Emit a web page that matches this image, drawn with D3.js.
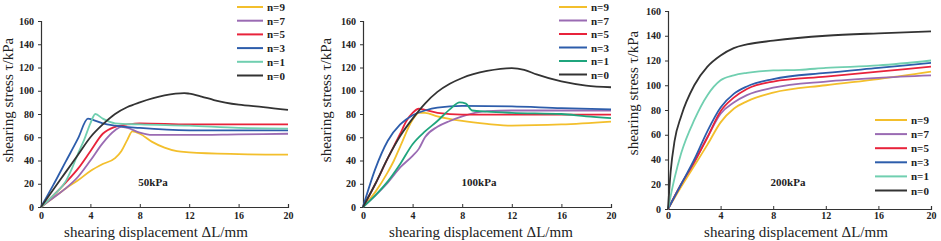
<!DOCTYPE html>
<html lang="en">
<head>
  <meta charset="utf-8" />
  <style>
    body { margin: 0; background: #fff; }
    text { font-family: "Liberation Serif", "Times New Roman", serif; fill: #222; }
    .tick text { font-size: 10px; font-weight: bold; }
    .title { font-size: 15px; }
    .legend text { font-size: 11px; font-weight: bold; }
    .note { font-size: 11px; font-weight: bold; }
  </style>
</head>
<body>
<script src="https://d3js.org/d3.v7.min.js"></script>
<script>
// series order used in every panel
var seriesNames = ["n=9", "n=7", "n=5", "n=3", "n=1", "n=0"];
var xTicks = [0, 4, 8, 12, 16, 20];
var yTicks = [0, 20, 40, 60, 80, 100, 120, 140, 160];

// 50 kPa : [displacement mm, stress kPa]
var kpa50 = [
  [[0,0],[1,8],[2,16],[3,23],[4,31],[5,37],[6,42],[6.5,48],[7,58],[7.4,65],[8,63],[9,56],[10,51],[11,48],[12,47],[16,45.5],[20,45]],
  [[0,0],[1,8],[2,16],[3,26],[4,40],[5,55],[6,66],[6.5,69],[7,68],[8,64],[9,62],[12,62],[16,62.5],[20,63]],
  [[0,0],[1,10],[2,21],[3,33],[4,48],[5,63],[6,69],[7,71],[8,72],[12,71],[16,71],[20,71]],
  [[0,0],[1,19],[2,39],[3,59],[3.8,76],[4.2,75],[5,72],[6,70],[8,68],[12,66],[16,66],[20,66]],
  [[0,0],[1,10],[2,22],[2.5,33],[3,46],[3.5,58],[4,72],[4.4,80],[5,76],[6,72],[8,71],[12,70],[16,68],[20,67.5]],
  [[0,0],[1,15],[2,30],[3,45],[4,60],[5,71],[6,80],[7,86],[8,90],[10,96],[11.6,98],[12,97.5],[13,95],[14,92],[16,88],[18,86],[20,83.5]]
];

// 100 kPa
var kpa100 = [
  [[0,0],[1,13],[2,30],[2.5,40],[3,52],[4,75],[4.5,81],[5,81],[6,78],[8,74],[10,71.5],[12,70],[16,71],[20,73.5]],
  [[0,0],[1,10],[2,21],[3,34],[4,44],[4.5,50],[5,60],[6,69],[7,74],[8,78],[10,82.5],[12,83],[16,83],[20,83]],
  [[0,0],[1,20],[2,42],[3,63],[3.5,74],[4,81],[4.5,84.5],[5,83.5],[6,81],[8,79.5],[12,79.5],[16,79.5],[20,79.5]],
  [[0,0],[1,33],[2,57],[3,71],[4,79],[5,83],[6,85.5],[8,87],[12,86.5],[16,85],[20,84]],
  [[0,0],[1,10],[2,22],[3,37],[4,54],[5,65],[6,74],[7,84],[7.8,90],[8.3,89],[8.8,83],[10,82],[12,81],[16,80],[18,78],[20,76.5]],
  [[0,0],[1,20],[2,42],[3,61],[4,76],[5,89],[6,99],[7,106],[8,111],[10,117],[12,119.5],[13,118],[14,114],[16,108],[18,104.5],[20,103]]
];

// 200 kPa
var kpa200 = [
  [[0,0],[1,18],[2,35],[3,52],[4,70],[5,81],[6,87],[8,94],[12,100],[16,105],[20,111]],
  [[0,0],[1,20],[2,38],[3,58],[4,77],[5,86],[6,92],[8,98],[12,103],[16,106],[20,108]],
  [[0,0],[1,20],[2,38],[3,58],[4,79],[5,90],[6,97],[8,103],[12,107],[16,111],[20,115]],
  [[0,0],[1,20],[2,40],[3,63],[4,82],[5,93],[6,99],[8,105],[12,110],[16,114],[20,118]],
  [[0,0],[0.5,25],[1,45],[2,72],[3,92],[4,104],[5,108],[6,110],[8,112],[10,112.5],[12,114],[16,116],[20,120]],
  [[0,0],[0.2,30],[0.5,55],[1,75],[2,100],[3,115],[4,124],[5,130],[6,133],[8,136],[12,140],[16,142],[20,143.5]]
];

var colors = ["#f3bf2c", "#9a6bb3", "#e8233b", "#2d5dab", "#70cfb0", "#333333"];
var colors100 = ["#f3bf2c", "#9a6bb3", "#e8233b", "#2d5dab", "#1fa57d", "#333333"];

var svg = d3.select("body").append("svg")
  .attr("width", 941)
  .attr("height", 241);

var panels = [
  { data: kpa50,  label: "50kPa",  colors: colors,    x0: 41,  x1: 288, y0: 207, y1: 21, pad: 5,
    xTitle: 156, yTitle: 13,  yTitleY: 100, note: 153, legX: 237, legW: 26, legY: 7,  legStep: 13.7 },
  { data: kpa100, label: "100kPa", colors: colors100, x0: 363, x1: 611, y0: 207, y1: 21, pad: 5,
    xTitle: 481, yTitle: 331, yTitleY: 100, note: 479, legX: 559, legW: 28, legY: 7,  legStep: 13.5 },
  { data: kpa200, label: "200kPa", colors: colors,    x0: 668, x1: 931, y0: 209, y1: 11, pad: 3,
    xTitle: 796, yTitle: 638, yTitleY: 93,  note: 788, legX: 875, legW: 32, legY: 120, legStep: 14.1 }
];

panels.forEach(function(p) {
  var x = d3.scaleLinear().domain([0, 20]).range([p.x0, p.x1]);
  var y = d3.scaleLinear().domain([0, 160]).range([p.y0, p.y1]);
  var g = svg.append("g");

  var xAxis = g.append("g")
    .attr("transform", "translate(0," + p.y0 + ")")
    .call(d3.axisBottom(x).tickValues(xTicks).tickSize(-3).tickPadding(p.pad));
  var yAxis = g.append("g")
    .attr("transform", "translate(" + p.x0 + ",0)")
    .call(d3.axisLeft(y).tickValues(yTicks).tickSize(3).tickPadding(4));

  [xAxis, yAxis].forEach(function(a) {
    a.select(".domain").attr("stroke", "#333").attr("stroke-width", 1.2);
    a.selectAll(".tick line").attr("stroke", "#333");
    a.attr("font-family", null).attr("font-size", null);
  });

  var line = d3.line()
    .x(function(d) { return x(d[0]); })
    .y(function(d) { return y(d[1]); })
    .curve(d3.curveMonotoneX);

  g.selectAll(".series")
    .data(p.data)
    .enter()
    .append("path")
      .attr("fill", "none")
      .attr("stroke", function(d, i) { return p.colors[i]; })
      .attr("stroke-width", 1.8)
      .attr("d", line);

  g.append("text")
    .attr("class", "title")
    .attr("x", p.xTitle)
    .attr("y", 236.5)
    .attr("text-anchor", "middle")
    .text("shearing displacement ΔL/mm");

  g.append("text")
    .attr("class", "title")
    .attr("transform", "translate(" + p.yTitle + "," + p.yTitleY + ") rotate(-90)")
    .attr("text-anchor", "middle")
    .text("shearing stress τ/kPa");

  g.append("text")
    .attr("class", "note")
    .attr("x", p.note)
    .attr("y", 186)
    .attr("text-anchor", "middle")
    .text(p.label);

  var leg = g.append("g").attr("class", "legend")
    .selectAll("g")
    .data(seriesNames)
    .enter()
    .append("g")
      .attr("transform", function(d, i) { return "translate(" + p.legX + "," + (p.legY + i * p.legStep) + ")"; });

  leg.append("line")
    .attr("x1", 0).attr("x2", p.legW)
    .attr("stroke", function(d, i) { return p.colors[i]; })
    .attr("stroke-width", 2);

  leg.append("text")
    .attr("x", p.legW + 4)
    .attr("y", 4)
    .text(function(d) { return d; });
});
</script>
</body>
</html>
